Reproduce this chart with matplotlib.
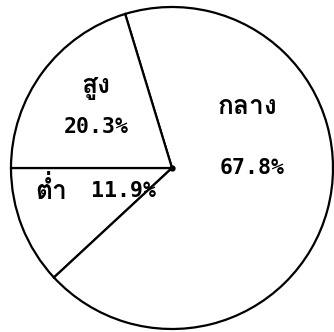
import matplotlib
matplotlib.use("Agg")
import matplotlib.pyplot as plt
from matplotlib import font_manager
from matplotlib.ft2font import FT2Font

# data
categories = ['ต่ำ', 'กลาง', 'สูง']
values = [11.9, 67.8, 20.3]
pct_labels = ['11.9%', '67.8%', '20.3%']

# find some installed font that has Thai glyphs
thai_font = None
for f in font_manager.fontManager.ttflist:
    try:
        if 0x0E01 in FT2Font(f.fname).get_charmap():
            thai_font = f.name
            break
    except Exception:
        pass
fams = ['DejaVu Sans Mono']
if thai_font:
    fams.append(thai_font)
fams.append('DejaVu Sans')
plt.rcParams['font.family'] = fams

fig = plt.figure(figsize=(3.34, 3.32), dpi=100)
ax = fig.add_axes([0, 0, 1, 1])

# pie: ต่ำ starts at the left horizontal line and runs counter-clockwise
ax.pie(values, startangle=180, counterclock=True, radius=1.0,
       colors=['white'] * 3,
       wedgeprops=dict(edgecolor='black', linewidth=1.6))
ax.plot(0, 0, 'ko', ms=3.5)

ax.set_aspect('equal')
cx, cy, R = 172, 168, 161   # pixel centre and radius of the circle
ax.set_xlim(-cx / R, (334 - cx) / R)
ax.set_ylim(-(332 - cy) / R, cy / R)
ax.axis('off')

fs_num = 15.5
fs_thai = 19
ax.text(-0.47, 0.50, categories[2], ha='center', va='center', fontsize=fs_thai, fontweight='bold')
ax.text(-0.47, 0.255, pct_labels[2], ha='center', va='center', fontsize=fs_num, fontweight='bold')
ax.text(0.47, 0.38, categories[1], ha='center', va='center', fontsize=fs_thai, fontweight='bold')
ax.text(0.50, 0.0, pct_labels[1], ha='center', va='center', fontsize=fs_num, fontweight='bold')
ax.text(-0.75, -0.14, categories[0], ha='center', va='center', fontsize=fs_thai, fontweight='bold')
ax.text(-0.30, -0.14, pct_labels[0], ha='center', va='center', fontsize=fs_num, fontweight='bold')

fig.savefig('out.png', dpi=100)
